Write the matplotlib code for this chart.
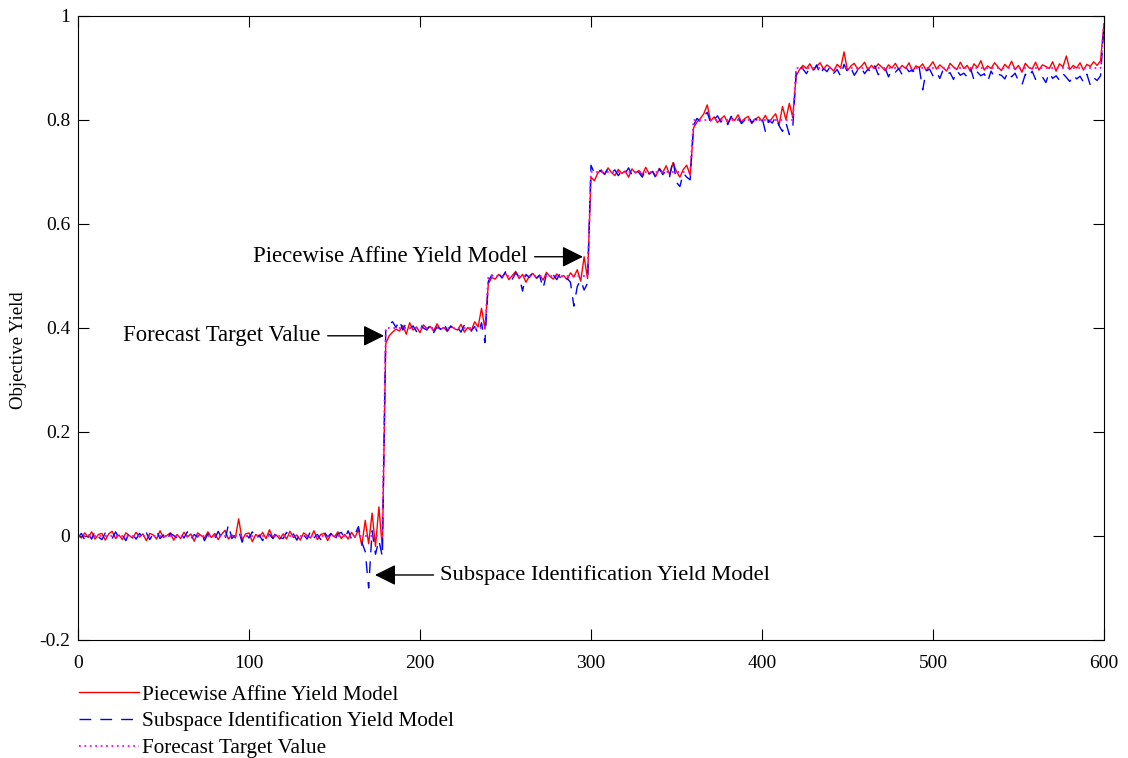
import matplotlib
matplotlib.use('Agg')
import matplotlib.pyplot as plt
import numpy as np
from matplotlib.ticker import FuncFormatter

plt.rcParams['font.family'] = ['Liberation Serif', 'DejaVu Serif']
plt.rcParams['axes.unicode_minus'] = False

# sample index (every 2 steps) and values
x = np.arange(0, 601, 2)

# Piecewise Affine Yield Model (red)
pa_rows = [
    [0.002, -0.004, 0.006, -0.003, 0.008, -0.006, 0.003, 0.005, -0.008, 0.004,
     0.009, -0.005, 0.002, -0.007, 0.006, 0.001, -0.004, 0.007, -0.002, 0.004,
     -0.009, 0.005, 0.002, -0.006, 0.010, -0.003, 0.001, 0.006, -0.008, 0.003],
    [-0.005, 0.007, -0.002, 0.004, -0.010, 0.006, 0.001, -0.004, 0.008, -0.003,
     0.005, -0.007, 0.003, 0.011, -0.006, 0.002, -0.004, 0.033, -0.008, 0.004,
     0.006, -0.011, 0.003, -0.002, 0.007, -0.005, 0.012, -0.004, 0.002, -0.006],
    [0.004, -0.006, 0.009, -0.003, 0.002, -0.008, 0.006, 0.001, -0.004, 0.010,
     -0.007, 0.003, 0.005, -0.009, 0.004, -0.002, 0.008, -0.005, 0.003, -0.006,
     0.007, -0.003, 0.012, -0.018, 0.030, -0.015, 0.044, -0.020, 0.056, -0.023],
    [0.370, 0.385, 0.392, 0.398, 0.394, 0.405, 0.388, 0.410, 0.396, 0.402,
     0.391, 0.406, 0.399, 0.403, 0.394, 0.408, 0.397, 0.401, 0.393, 0.404,
     0.399, 0.396, 0.407, 0.392, 0.401, 0.395, 0.412, 0.402, 0.438, 0.398],
    [0.485, 0.497, 0.494, 0.503, 0.498, 0.506, 0.493, 0.501, 0.509, 0.495,
     0.503, 0.488, 0.500, 0.505, 0.496, 0.502, 0.492, 0.507, 0.499, 0.494,
     0.504, 0.497, 0.501, 0.493, 0.506, 0.498, 0.512, 0.490, 0.537, 0.495],
    [0.690, 0.683, 0.698, 0.704, 0.695, 0.708, 0.699, 0.693, 0.705, 0.697,
     0.702, 0.690, 0.706, 0.698, 0.703, 0.694, 0.709, 0.697, 0.701, 0.692,
     0.707, 0.699, 0.712, 0.695, 0.718, 0.701, 0.690, 0.705, 0.713, 0.694],
    [0.785, 0.796, 0.803, 0.812, 0.829, 0.798, 0.806, 0.795, 0.802, 0.808,
     0.794, 0.805, 0.799, 0.810, 0.796, 0.803, 0.807, 0.793, 0.801, 0.806,
     0.798, 0.809, 0.795, 0.804, 0.812, 0.790, 0.826, 0.801, 0.832, 0.805],
    [0.885, 0.897, 0.905, 0.899, 0.908, 0.896, 0.903, 0.910, 0.898, 0.906,
     0.901, 0.894, 0.907, 0.900, 0.931, 0.895, 0.904, 0.909, 0.897, 0.903,
     0.911, 0.896, 0.905, 0.899, 0.908, 0.902, 0.895, 0.906, 0.900, 0.909],
    [0.897, 0.905, 0.899, 0.910, 0.893, 0.904, 0.901, 0.908, 0.895, 0.903,
     0.912, 0.898, 0.906, 0.900, 0.894, 0.909, 0.902, 0.897, 0.911, 0.899,
     0.905, 0.893, 0.908, 0.901, 0.914, 0.896, 0.904, 0.899, 0.910, 0.902],
    [0.895, 0.907, 0.900, 0.913, 0.897, 0.905, 0.892, 0.909, 0.901, 0.898,
     0.911, 0.896, 0.906, 0.903, 0.899, 0.912, 0.894, 0.908, 0.902, 0.923,
     0.897, 0.905, 0.900, 0.910, 0.896, 0.907, 0.903, 0.912, 0.905, 0.914],
    [0.985],
]

# Subspace Identification Yield Model (blue)
si_rows = [
    [-0.003, 0.005, -0.008, 0.004, -0.006, 0.009, -0.002, -0.007, 0.006, 0.003,
     -0.005, 0.008, -0.004, 0.002, -0.009, 0.007, 0.003, -0.006, 0.005, -0.003,
     0.006, -0.007, 0.004, 0.009, -0.005, 0.002, -0.008, 0.005, 0.001, -0.004],
    [0.006, -0.004, 0.008, -0.007, 0.003, -0.002, 0.007, -0.009, 0.004, 0.002,
     -0.006, 0.009, -0.003, -0.008, 0.022, -0.005, 0.003, 0.010, -0.012, 0.005,
     -0.004, 0.008, -0.006, 0.002, -0.009, 0.006, 0.003, -0.005, 0.008, -0.003],
    [-0.005, 0.007, -0.003, 0.004, -0.008, 0.006, 0.002, -0.006, 0.009, -0.004,
     0.003, -0.007, 0.008, -0.002, 0.005, -0.009, 0.004, 0.007, -0.005, 0.010,
     -0.006, 0.003, 0.018, -0.012, -0.030, -0.100, 0.010, -0.035, -0.008, -0.040],
    [0.395, 0.408, 0.412, 0.401, 0.415, 0.396, 0.410, 0.399, 0.404, 0.393,
     0.407, 0.400, 0.396, 0.405, 0.391, 0.402, 0.398, 0.409, 0.395, 0.403,
     0.397, 0.401, 0.392, 0.406, 0.399, 0.394, 0.403, 0.389, 0.410, 0.372],
    [0.490, 0.502, 0.498, 0.505, 0.496, 0.508, 0.500, 0.494, 0.506, 0.499,
     0.471, 0.503, 0.497, 0.507, 0.495, 0.501, 0.476, 0.504, 0.498, 0.502,
     0.493, 0.505, 0.499, 0.496, 0.488, 0.442, 0.480, 0.492, 0.473, 0.486],
    [0.713, 0.698, 0.705, 0.701, 0.696, 0.707, 0.699, 0.704, 0.693, 0.702,
     0.697, 0.708, 0.694, 0.703, 0.699, 0.690, 0.705, 0.696, 0.701, 0.688,
     0.706, 0.695, 0.703, 0.691, 0.724, 0.680, 0.672, 0.698, 0.690, 0.685],
    [0.790, 0.803, 0.797, 0.806, 0.815, 0.794, 0.801, 0.808, 0.796, 0.803,
     0.791, 0.807, 0.799, 0.804, 0.793, 0.800, 0.809, 0.795, 0.802, 0.798,
     0.805, 0.778, 0.800, 0.794, 0.806, 0.789, 0.778, 0.795, 0.772, 0.785],
    [0.892, 0.904, 0.898, 0.889, 0.901, 0.895, 0.906, 0.887, 0.899, 0.893,
     0.903, 0.890, 0.897, 0.884, 0.907, 0.892, 0.900, 0.886, 0.896, 0.902,
     0.889, 0.898, 0.891, 0.904, 0.887, 0.895, 0.900, 0.883, 0.897, 0.892],
    [0.899, 0.887, 0.902, 0.893, 0.896, 0.889, 0.900, 0.858, 0.894, 0.898,
     0.885, 0.893, 0.880, 0.897, 0.888, 0.891, 0.878, 0.895, 0.886, 0.890,
     0.883, 0.899, 0.877, 0.892, 0.885, 0.889, 0.874, 0.894, 0.882, 0.888],
    [0.886, 0.879, 0.893, 0.883, 0.890, 0.875, 0.867, 0.888, 0.881, 0.894,
     0.878, 0.886, 0.883, 0.872, 0.891, 0.880, 0.885, 0.876, 0.889, 0.882,
     0.874, 0.887, 0.879, 0.884, 0.873, 0.888, 0.867, 0.881, 0.876, 0.885],
    [0.980],
]

# Forecast target value: step levels
step_edges = [0, 180, 240, 300, 360, 420]
step_levels = [0.0, 0.4, 0.5, 0.7, 0.8, 0.9]
target_end = 0.99

pa = np.concatenate(pa_rows)
si = np.concatenate(si_rows)
target = np.array(step_levels)[np.searchsorted(step_edges, x, side='right') - 1]
target[-1] = target_end

fig = plt.figure(figsize=(11.28, 7.58), dpi=100)
ax = fig.add_axes([0.0691, 0.1557, 0.9096, 0.8232])

ax.plot(x, pa, color='#ff0000', lw=1.0, label='Piecewise Affine Yield Model')
ax.plot(x, si, color='#0000ff', lw=1.0, ls=(0, (8.5, 6.5)), label='Subspace Identification Yield Model')
ax.plot(x, target, color='#ff00ff', lw=1.3, ls=(0, (1, 2)), label='Forecast Target Value')

ax.set_xlim(0, 600)
ax.set_ylim(-0.2, 1)
ax.set_xticks(np.arange(0, 601, 100))
ax.set_yticks(np.arange(-0.2, 1.01, 0.2))
ax.yaxis.set_major_formatter(FuncFormatter(lambda v, p: '%g' % round(v, 2)))
ax.tick_params(direction='in', length=8, width=0.8, top=True, right=True,
               labelsize=14)
ax.tick_params(axis='x', pad=11)
ax.tick_params(axis='y', pad=5.5)
ax.set_ylabel('Objective Yield', fontsize=13.5)
ax.yaxis.set_label_coords(-0.05, 0.465)
for s in ax.spines.values():
    s.set_linewidth(0.8)

arrow = dict(arrowstyle='-|>', color='k', lw=1.0, mutation_scale=32,
             shrinkA=3, shrinkB=0)
ax.annotate('Piecewise Affine Yield Model', xy=(295.3, 0.537), xytext=(263, 0.537),
            fontsize=16.4, ha='right', va='center', arrowprops=arrow)
ax.annotate('Forecast Target Value', xy=(179, 0.385), xytext=(142, 0.385),
            fontsize=16.4, ha='right', va='center', arrowprops=arrow)
ax.annotate('Subspace Identification Yield Model', xy=(173.7, -0.075), xytext=(212, -0.075),
            fontsize=16.2, ha='left', va='center', arrowprops=arrow)

fig.legend(loc='upper left', bbox_to_anchor=(0.07, 0.0965), frameon=False,
           fontsize=15.3, handlelength=2.82, handletextpad=0.15, labelspacing=0.32,
           borderpad=0, borderaxespad=0)

fig.savefig('out.png', dpi=100)
